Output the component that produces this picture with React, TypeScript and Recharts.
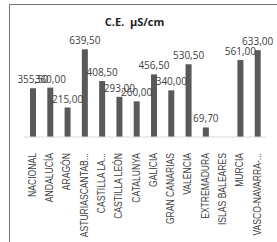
import { Bar, BarChart, LabelList, XAxis, YAxis } from "recharts";

const categories = [
  "NACIONAL",
  "ANDALUCÍA",
  "ARAGÓN",
  "ASTURIASCANTAB...",
  "CASTILLA LA...",
  "CASTILLA LEÓN",
  "CATALUNYA",
  "GALICIA",
  "GRAN CANARIAS",
  "VALENCIA",
  "EXTREMADURA",
  "ISLAS BALEARES",
  "MURCIA",
  "VASCO-NAVARRA-...",
];

const conductivity: Array<number | null> = [
  355.5, 360.0, 215.0, 639.5, 408.5, 293.0, 260.0, 456.5, 340.0, 530.5, 69.7, null, 561.0, 633.0,
];

const data = categories.map((name, i) => ({ name, value: conductivity[i] }));

const fmt = (v: any) => (v == null ? "" : Number(v).toFixed(2).replace(".", ","));

function CategoryTick(props: any) {
  const { x, y, payload } = props;
  return (
    <text
      transform={`translate(${x},${y + 8}) rotate(-90) scale(0.86,1)`}
      textAnchor="end"
      dominantBaseline="central"
      fontSize={10}
      fontFamily="'Liberation Sans', sans-serif"
      fill="#404040"
    >
      {payload.value}
    </text>
  );
}

export default function App() {
  return (
    <div
      style={{
        position: "absolute",
        left: 0,
        top: 0,
        width: 277,
        height: 242,
        overflow: "hidden",
        background: "#fff",
      }}
    >
      <div
        style={{
          position: "absolute",
          left: 9,
          top: 4,
          width: 300,
          height: 300,
          border: "1.5px solid #777",
          boxSizing: "border-box",
        }}
      />
      <div
        style={{
          position: "absolute",
          left: 0,
          top: 14,
          width: 277,
          textAlign: "center",
          fontFamily: "'Open Sans', sans-serif",
          fontWeight: 700,
          fontSize: 11,
          color: "#222",
        }}
      >
        <span style={{ marginLeft: -8 }}>C.E.&nbsp;&nbsp;µS/cm</span>
      </div>
      <div style={{ position: "absolute", left: 0, top: 0 }}>
        <BarChart
          width={277}
          height={242}
          data={data}
          margin={{ top: 41, right: 11, bottom: 5, left: 24 }}
          barCategoryGap={0}
        >
          <XAxis
            dataKey="name"
            interval={0}
            height={100}
            tickLine={false}
            axisLine={{ stroke: "#d9d9d9" }}
            tick={<CategoryTick />}
          />
          <YAxis hide domain={[0, 700]} />
          <Bar dataKey="value" fill="#595959" barSize={6} isAnimationActive={false}>
            <LabelList
              dataKey="value"
              position="top"
              formatter={fmt}
              fontSize={10}
              fontFamily="'Open Sans', sans-serif"
              fill="#404040"
            />
          </Bar>
        </BarChart>
      </div>
    </div>
  );
}
